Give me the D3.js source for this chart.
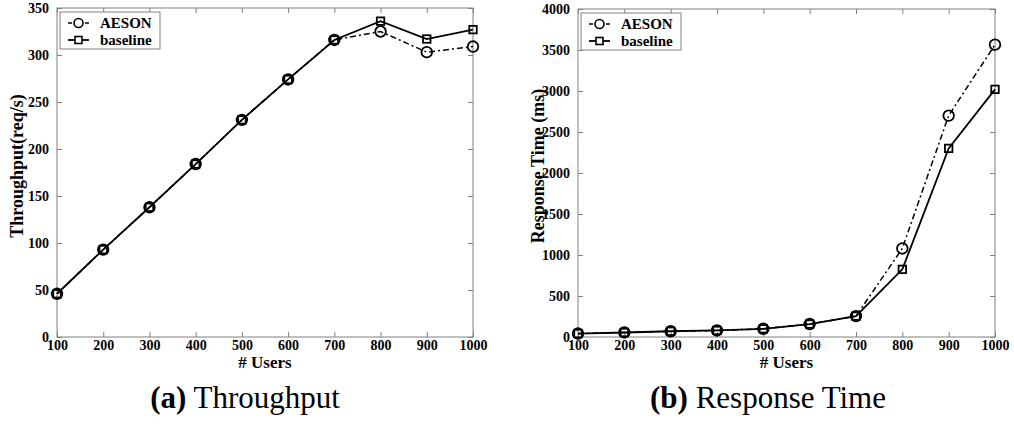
<!DOCTYPE html>
<html>
<head>
<meta charset="utf-8">
<script src="https://cdn.jsdelivr.net/npm/d3@7"></script>
<style>
  body { margin: 0; background: #fff; }
  text { font-family: "Liberation Serif", "Times New Roman", serif; }
</style>
</head>
<body>
<div id="chart"></div>
<script>
// data
let users = [100, 200, 300, 400, 500, 600, 700, 800, 900, 1000];
let aesonThroughput = [46, 93, 138, 184, 231, 274, 316, 325, 303, 309];
let baseThroughput = [46, 93, 138, 184, 231, 274, 316, 336, 317, 327];
let aesonResp = [42, 55, 70, 80, 100, 158, 255, 1080, 2700, 3565];
let baseResp = [42, 55, 70, 80, 100, 158, 255, 825, 2300, 3020];
let throughputTicks = [0, 50, 100, 150, 200, 250, 300, 350];
let respTicks = [0, 500, 1000, 1500, 2000, 2500, 3000, 3500, 4000];
let seriesNames = ["AESON", "baseline"];

let width = 1014, height = 427;
let frameColor = "#808080";
let serif = '"Liberation Serif", "Times New Roman", serif';

let svg = d3.select("#chart").append("svg")
    .attr("width", width)
    .attr("height", height);

function drawPanel(opt){
    let x = d3.scaleLinear().domain([100, 1000]).range([opt.left, opt.right]);
    let y = d3.scaleLinear().domain([0, opt.yMax]).range([opt.bottom, opt.top]);
    let g = svg.append("g");

    // frame
    g.append("rect")
        .attr("x", opt.left).attr("y", opt.top)
        .attr("width", opt.right - opt.left).attr("height", opt.bottom - opt.top)
        .style("fill", "none").style("stroke", frameColor).style("stroke-width", 1);

    // axes (ticks inward on all sides)
    let tl = 5;
    let xb = g.append("g").attr("transform", "translate(0," + opt.bottom + ")")
        .call(d3.axisBottom(x).tickValues(users).tickSize(-tl).tickPadding(tl + 1).tickFormat(d3.format("d")));
    let xt = g.append("g").attr("transform", "translate(0," + opt.top + ")")
        .call(d3.axisTop(x).tickValues(users).tickSize(-tl).tickFormat(""));
    let yl = g.append("g").attr("transform", "translate(" + opt.left + ",0)")
        .call(d3.axisLeft(y).tickValues(opt.ticks).tickSize(-tl).tickPadding(tl + 3).tickFormat(d3.format("d")));
    let yr = g.append("g").attr("transform", "translate(" + opt.right + ",0)")
        .call(d3.axisRight(y).tickValues(opt.ticks).tickSize(-tl).tickFormat(""));
    [xb, xt, yl, yr].forEach(a => {
        a.attr("font-family", serif);
        a.select(".domain").remove();
        a.selectAll(".tick line").style("stroke", frameColor);
        a.selectAll("text")
            .style("font-family", serif)
            .style("font-weight", "bold").style("font-size", "14px").style("fill", "#000");
    });
    xb.selectAll("text").attr("dy", "0.5em");

    // axis titles
    g.append("text")
        .attr("x", (opt.left + opt.right) / 2).attr("y", 368)
        .attr("text-anchor", "middle")
        .style("font-weight", "bold").style("font-size", "17px")
        .text("# Users");
    g.append("text")
        .attr("transform", "translate(" + opt.yLabelX + ",166) rotate(-90)")
        .attr("text-anchor", "middle")
        .style("font-weight", "bold").style("font-size", "18px")
        .text(opt.yLabel);

    // lines
    let line = d3.line().x((d, i) => x(users[i])).y(d => y(d));
    g.append("path").datum(opt.base)
        .attr("d", line)
        .style("fill", "none").style("stroke", "#000").style("stroke-width", 1.8);
    g.append("path").datum(opt.aeson)
        .attr("d", line)
        .style("fill", "none").style("stroke", "#000").style("stroke-width", 1.5)
        .style("stroke-dasharray", "6,3,2,3");

    // markers
    let sq = 7.5;
    g.selectAll(".sq").data(opt.base).join("rect")
        .attr("x", (d, i) => x(users[i]) - sq / 2)
        .attr("y", d => y(d) - sq / 2)
        .attr("width", sq).attr("height", sq)
        .style("fill", "none").style("stroke", "#000").style("stroke-width", 1.8);
    g.selectAll(".ci").data(opt.aeson).join("circle")
        .attr("cx", (d, i) => x(users[i]))
        .attr("cy", d => y(d))
        .attr("r", 5.3)
        .style("fill", "none").style("stroke", "#000").style("stroke-width", 1.8);

    // legend
    let lx = opt.left + 3, ly = opt.top + 4;
    g.append("rect")
        .attr("x", lx).attr("y", ly).attr("width", 100).attr("height", 37)
        .style("fill", "#fff").style("stroke", frameColor).style("stroke-width", 1);
    seriesNames.forEach((name, i) => {
        let yy = ly + 11 + i * 17;
        let item = g.append("g");
        item.append("line")
            .attr("x1", lx + 8).attr("x2", lx + 29).attr("y1", yy).attr("y2", yy)
            .style("stroke", "#000").style("stroke-width", i == 0 ? 1.5 : 1.8)
            .style("stroke-dasharray", i == 0 ? "4,3,4,6" : null);
        if (i == 0) {
            item.append("circle").attr("cx", lx + 18.5).attr("cy", yy).attr("r", 4.5)
                .style("fill", "#fff").style("stroke", "#000").style("stroke-width", 1.6);
        } else {
            item.append("rect").attr("x", lx + 15).attr("y", yy - 3.5).attr("width", 7).attr("height", 7)
                .style("fill", "#fff").style("stroke", "#000").style("stroke-width", 1.6);
        }
        item.append("text")
            .attr("x", lx + 40).attr("y", yy).attr("dy", "0.35em")
            .style("font-weight", "bold").style("font-size", "15px")
            .text(name);
    });

    // caption
    let cap = g.append("text")
        .attr("x", opt.capX).attr("y", 408)
        .attr("text-anchor", "middle")
        .style("font-size", "31px");
    cap.append("tspan").style("font-weight", "bold").text(opt.capTag);
    cap.append("tspan").text(" " + opt.caption);
}

drawPanel({
    left: 57, right: 473, top: 8, bottom: 337,
    yMax: 350, ticks: throughputTicks,
    aeson: aesonThroughput, base: baseThroughput,
    yLabel: "Throughput(req/s)", yLabelX: 23,
    capTag: "(a)", caption: "Throughput", capX: 245
});
drawPanel({
    left: 578, right: 995, top: 9, bottom: 337,
    yMax: 4000, ticks: respTicks,
    aeson: aesonResp, base: baseResp,
    yLabel: "Response Time (ms)", yLabelX: 544,
    capTag: "(b)", caption: "Response Time", capX: 768
});
</script>
</body>
</html>
